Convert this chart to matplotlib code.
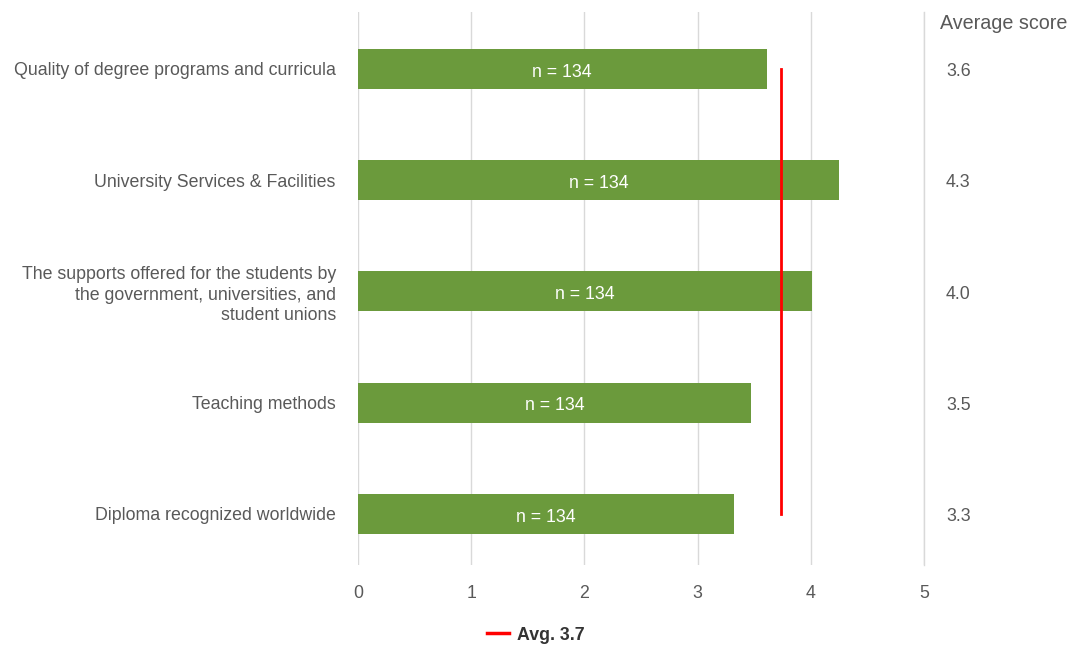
import numpy as np
import matplotlib.pyplot as plt
from matplotlib.lines import Line2D

plt.rcParams['font.family'] = ['Liberation Sans', 'DejaVu Sans']

# survey categories (top to bottom) and mean scores
categories = ['Quality of degree programs and curricula',
              'University Services & Facilities',
              'The supports offered for the students by\nthe government, universities, and\nstudent unions',
              'Teaching methods',
              'Diploma recognized worldwide']
scores = [3.61, 4.25, 4.01, 3.47, 3.32]
counts = [134, 134, 134, 134, 134]
score_labels = ['3.6', '4.3', '4.0', '3.5', '3.3']
avg = 3.74
avg_label = 'Avg. 3.7'

grey = '#595959'
green = '#6b9a3c'

fig = plt.figure(figsize=(10.78, 6.48), dpi=100)
ax = fig.add_axes([0.3321, 0.128, 0.525, 0.8534])

y = np.arange(len(categories))
ax.barh(y, scores, height=0.36, color=green, zorder=2)
for yi, s, n in zip(y, scores, counts):
    ax.text(s / 2, yi + 0.03, f'n = {n}', color='white', fontsize=12.8,
            ha='center', va='center', zorder=3)

# average line across the bars
ax.plot([avg, avg], [y[0], y[-1]], color='#ff0000', lw=2, zorder=4)

ax.set_xlim(0, 5)
ax.set_ylim(4.46, -0.51)
ax.set_xticks(range(6))
ax.set_yticks(y)
ax.set_yticklabels(categories, fontsize=12.8, color=grey, linespacing=1.29)
ax.tick_params(axis='x', labelsize=12.8, labelcolor=grey, length=0, pad=14)
ax.tick_params(axis='y', length=0, pad=16)
ax.grid(axis='x', color='#d9d9d9', lw=1, zorder=0)
for sp in ax.spines.values():
    sp.set_visible(False)
ax.axvline(0, color='#c8cde0', lw=1.2, zorder=1)
ax.axvline(5, color='#d9d9d9', lw=1, zorder=0, clip_on=False)

# right-hand column with average scores
ax.text(1.0275, -0.41, 'Average score', transform=ax.get_yaxis_transform(),
        fontsize=14.2, color=grey, ha='left', va='center')
for yi, lab in zip(y, score_labels):
    ax.text(1.039, yi + 0.025, lab, transform=ax.get_yaxis_transform(),
            fontsize=12.8, color=grey, ha='left', va='center')

handle = Line2D([], [], color='#ff0000', lw=2.5)
leg = fig.legend([handle], [avg_label], loc='center', bbox_to_anchor=(0.497, 0.02),
                 frameon=False, handlelength=1.24, handletextpad=0.45,
                 prop={'weight': 'bold', 'size': 12.8})
for t in leg.get_texts():
    t.set_color('#333333')

fig.savefig('out.png', dpi=100)
